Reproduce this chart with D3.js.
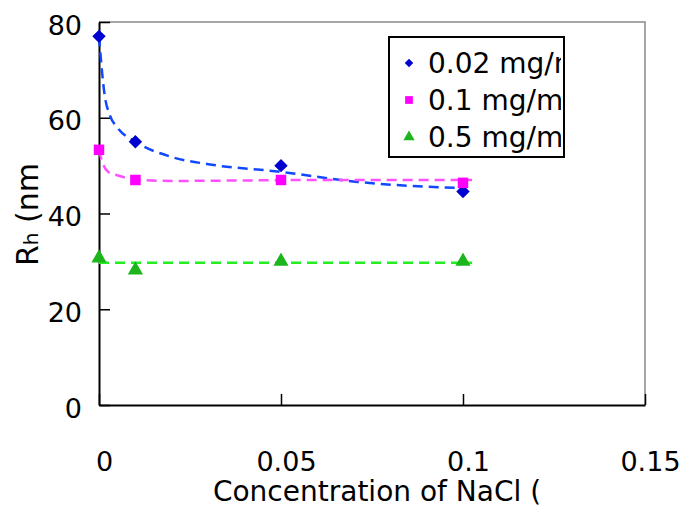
<!DOCTYPE html>
<html>
<head>
<meta charset="utf-8">
<script src="https://cdn.jsdelivr.net/npm/d3@7"></script>
<style>
  body { margin: 0; background: #fff; }
  text { font-family: "DejaVu Sans", sans-serif; fill: #000; }
</style>
</head>
<body>
<div id="chart_wrapper"></div>
<script>
// NaCl concentration (x) for measured points
var conc = [0, 0.01, 0.05, 0.1];
// Rh (nm) for each polymer concentration
var rh002 = [77, 55, 50, 44.6];
var rh01 = [53.3, 47, 47, 46.4];
var rh05 = [30.7, 28.2, 30, 30];

// dashed trend curves
var trend002X = [0, 0.0015, 0.003, 0.005, 0.01, 0.02, 0.03, 0.05, 0.071, 0.1];
var trend002Y = [77, 65, 60.5, 58, 55, 51.8, 50.3, 48.7, 46.6, 45.3];
var trend01X = [0, 0.001, 0.0025, 0.005, 0.01, 0.02, 0.04, 0.06, 0.1025];
var trend01Y = [53.3, 50.5, 48.7, 48, 47.1, 46.8, 46.9, 47, 47];
var trend05X = [0, 0.1025];
var trend05Y = [29.7, 29.7];

var seriesNames = ["0.02 mg/ml", "0.1 mg/ml", "0.5 mg/ml"];
var xTicks = [0, 0.05, 0.1, 0.15];
var yTicks = [0, 20, 40, 60, 80];

var W = 688, H = 507;
var svg = d3.select("#chart_wrapper").append("svg").attr("width", W).attr("height", H);

var x = d3.scaleLinear().domain([0, 0.15]).range([99, 645]);
var y = d3.scaleLinear().domain([0, 80]).range([405, 22]);

var series = [
  { name: seriesNames[0], vals: rh002, tx: trend002X, ty: trend002Y, mark: d3.symbolSquare, rot: 45, fill: "#0000d0", line: "#1048ff", size: 90, lsize: 36 },
  { name: seriesNames[1], vals: rh01, tx: trend01X, ty: trend01Y, mark: d3.symbolSquare, rot: 0, fill: "#ff00ff", line: "#ff50ff", size: 110, lsize: 60 },
  { name: seriesNames[2], vals: rh05, tx: trend05X, ty: trend05Y, mark: d3.symbolTriangle, rot: 0, fill: "#1cb51c", line: "#22ee22", size: 100, lsize: 55 }
];

// plot frame (gray top/right)
svg.append("path")
  .attr("d", "M" + x(0) + "," + y(80) + "H" + x(0.15) + "V" + y(0))
  .attr("fill", "none").attr("stroke", "#888").attr("stroke-width", 1.5);

// axes
var xAxis = svg.append("g").attr("transform", "translate(0," + y(0) + ")")
  .call(d3.axisBottom(x).tickValues(xTicks).tickSizeInner(-11).tickSizeOuter(0).tickFormat(d3.format("")));
xAxis.select(".domain").attr("stroke-width", 2);
xAxis.selectAll(".tick line").attr("stroke-width", 1.5);
xAxis.selectAll(".tick text").attr("font-size", 27).attr("dy", 0).attr("y", 66).attr("dx", 5)
  .style("font-family", "DejaVu Sans");

var yAxis = svg.append("g").attr("transform", "translate(" + x(0) + ",0)")
  .call(d3.axisLeft(y).tickValues(yTicks).tickSizeInner(-11).tickSizeOuter(0));
yAxis.select(".domain").attr("stroke-width", 2);
yAxis.selectAll(".tick line").attr("stroke-width", 1.5);
yAxis.selectAll(".tick text").attr("font-size", 27).attr("x", -17).attr("dy", "0.45em")
  .style("font-family", "DejaVu Sans");

// trend lines
var line = d3.line().curve(d3.curveMonotoneX);
svg.append("g").selectAll("path").data(series).enter().append("path")
  .attr("d", function(d) { return line(d.tx.map(function(v, i) { return [x(v), y(d.ty[i])]; })); })
  .attr("fill", "none")
  .attr("stroke", function(d) { return d.line; })
  .attr("stroke-width", 2.5)
  .attr("stroke-dasharray", "10,6");

// markers
series.forEach(function(s) {
  svg.append("g").selectAll("path").data(s.vals).enter().append("path")
    .attr("d", d3.symbol().type(s.mark).size(s.size))
    .attr("transform", function(d, i) { return "translate(" + x(conc[i]) + "," + y(d) + ") rotate(" + s.rot + ")"; })
    .attr("fill", s.fill);
});

// legend
var lg = { x: 389, y: 37, w: 175, h: 120 };
svg.append("clipPath").attr("id", "lgclip").append("rect")
  .attr("x", lg.x).attr("y", lg.y).attr("width", lg.w - 3).attr("height", lg.h);
svg.append("rect").attr("x", lg.x).attr("y", lg.y).attr("width", lg.w).attr("height", lg.h)
  .attr("fill", "#fff").attr("stroke", "#000").attr("stroke-width", 2);
var items = svg.append("g").attr("clip-path", "url(#lgclip)").selectAll("g").data(series).enter().append("g")
  .attr("transform", function(d, i) { return "translate(" + lg.x + "," + (lg.y + 26 + i * 37) + ")"; });
items.append("path").attr("d", function(d) { return d3.symbol().type(d.mark).size(d.lsize)(); })
  .attr("transform", function(d) { return "translate(20,0) rotate(" + d.rot + ")"; })
  .attr("fill", function(d) { return d.fill; });
items.append("text").attr("x", 39).attr("dy", "0.36em").attr("font-size", 28).text(function(d) { return d.name; });

// axis titles
svg.append("text").attr("x", 377).attr("y", 501).attr("text-anchor", "middle")
  .attr("font-size", 28).text("Concentration of NaCl (");

var yt = svg.append("text").attr("transform", "translate(38,266) rotate(-90)").attr("font-size", 30);
yt.append("tspan").text("R");
yt.append("tspan").attr("font-size", 20).text("h");
yt.append("tspan").text(" (nm");
</script>
</body>
</html>
